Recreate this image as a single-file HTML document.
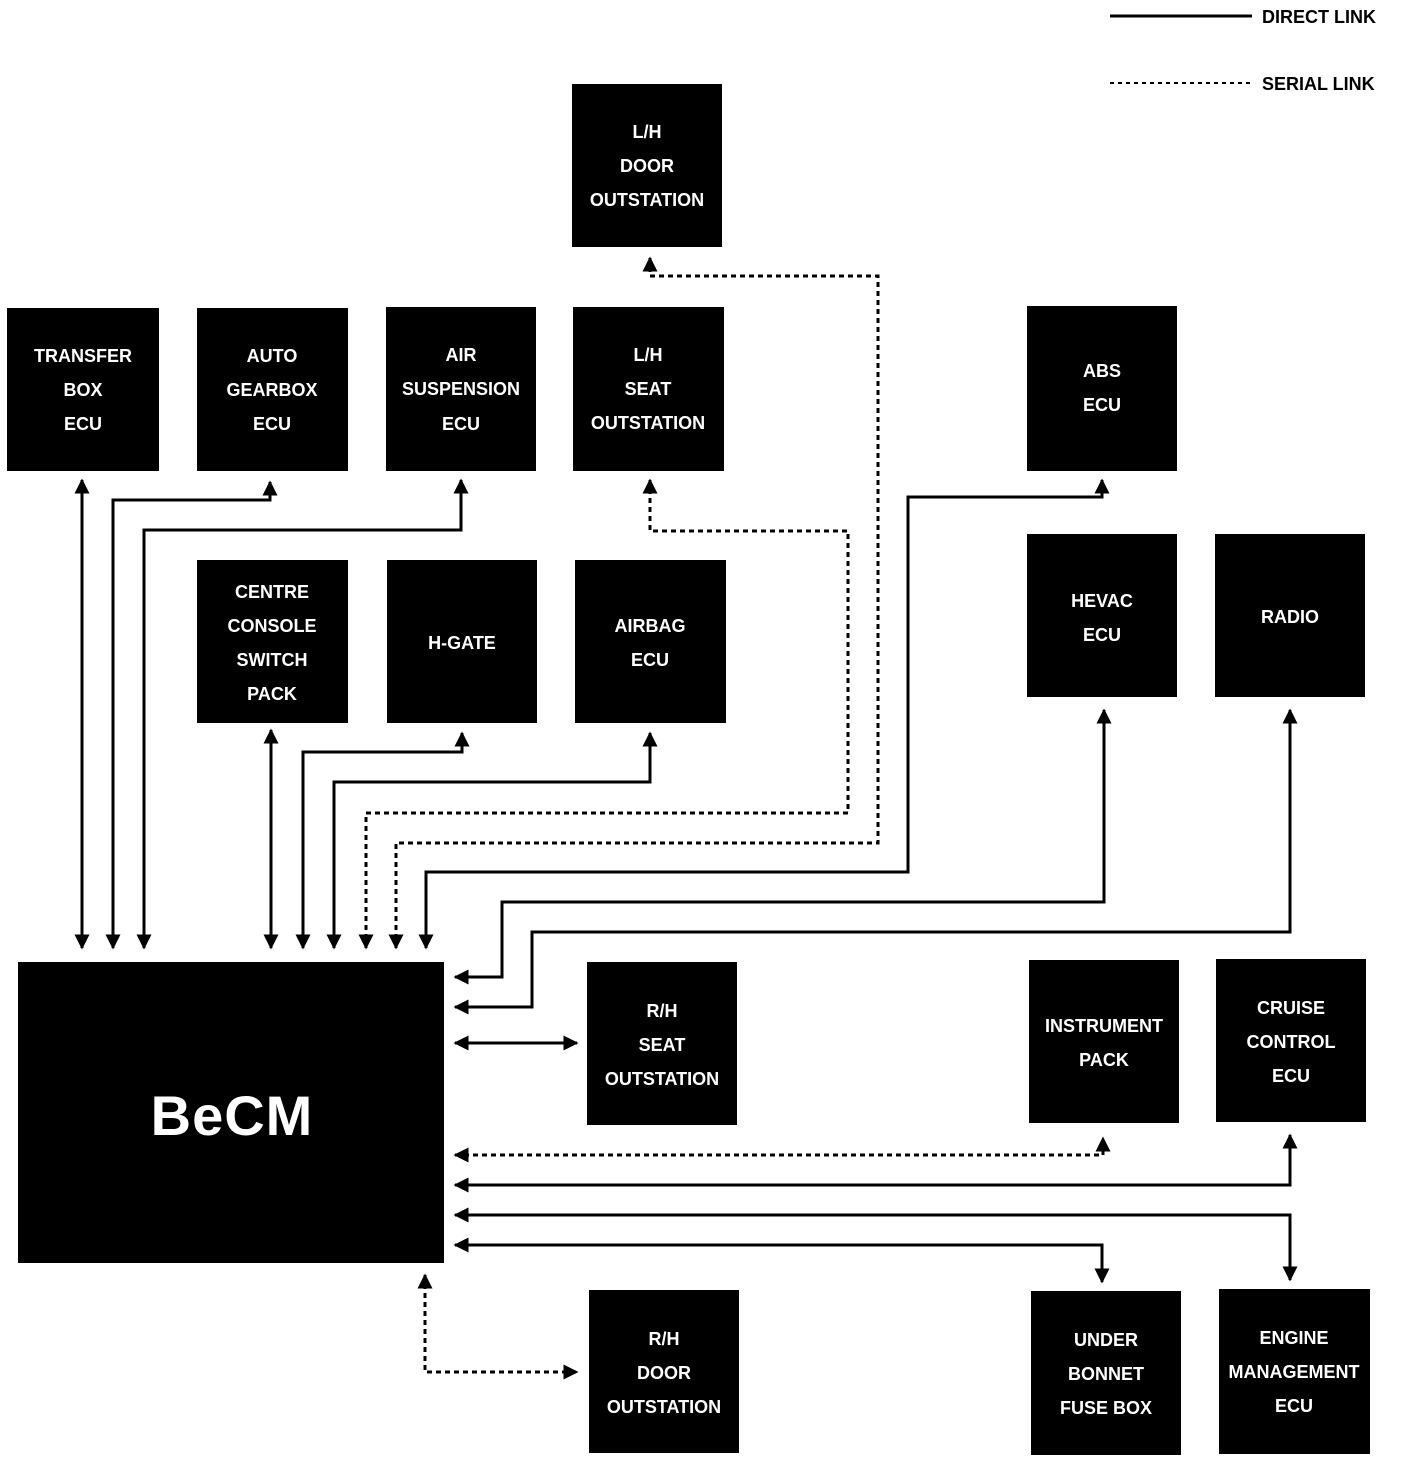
<!DOCTYPE html>
<html><head><meta charset="utf-8"><style>
html,body{margin:0;padding:0;background:#fff}
svg{display:block}
text{font-family:"Liberation Sans Narrow","Liberation Sans",sans-serif;font-weight:bold;fill:#fff;font-size:18px;text-anchor:middle;letter-spacing:0px}
.l{fill:#000;text-anchor:start}
</style></head><body>
<svg width="1408" height="1462" viewBox="0 0 1408 1462" xmlns="http://www.w3.org/2000/svg">
<defs>
<marker id="a" viewBox="0 0 10 10" refX="9" refY="5" markerWidth="5" markerHeight="5" orient="auto-start-reverse"><path d="M0,0L10,5L0,10z" fill="#000"/></marker>
</defs>
<g fill="#000">
<rect x="572" y="84" width="150" height="163"/>
<rect x="7" y="308" width="152" height="163"/>
<rect x="197" y="308" width="151" height="163"/>
<rect x="386" y="307" width="150" height="164"/>
<rect x="573" y="307" width="151" height="164"/>
<rect x="1027" y="306" width="150" height="165"/>
<rect x="197" y="560" width="151" height="163"/>
<rect x="387" y="560" width="150" height="163"/>
<rect x="575" y="560" width="151" height="163"/>
<rect x="1027" y="534" width="150" height="163"/>
<rect x="1215" y="534" width="150" height="163"/>
<rect x="18" y="962" width="426" height="301"/>
<rect x="587" y="962" width="150" height="163"/>
<rect x="1029" y="960" width="150" height="163"/>
<rect x="1216" y="959" width="150" height="163"/>
<rect x="589" y="1290" width="150" height="163"/>
<rect x="1031" y="1291" width="150" height="164"/>
<rect x="1219" y="1289" width="151" height="165"/>
</g>
<g>
<text x="647" y="138">L/H</text><text x="647" y="172">DOOR</text><text x="647" y="206">OUTSTATION</text>
<text x="83" y="362">TRANSFER</text><text x="83" y="396">BOX</text><text x="83" y="430">ECU</text>
<text x="272" y="362">AUTO</text><text x="272" y="396">GEARBOX</text><text x="272" y="430">ECU</text>
<text x="461" y="361">AIR</text><text x="461" y="395">SUSPENSION</text><text x="461" y="430">ECU</text>
<text x="648" y="361">L/H</text><text x="648" y="395">SEAT</text><text x="648" y="429">OUTSTATION</text>
<text x="1102" y="377">ABS</text><text x="1102" y="411">ECU</text>
<text x="272" y="598">CENTRE</text><text x="272" y="632">CONSOLE</text><text x="272" y="666">SWITCH</text><text x="272" y="700">PACK</text>
<text x="462" y="649">H-GATE</text>
<text x="650" y="632">AIRBAG</text><text x="650" y="666">ECU</text>
<text x="1102" y="607">HEVAC</text><text x="1102" y="641">ECU</text>
<text x="1290" y="623">RADIO</text>
<text x="232" y="1135" style="font-size:56px;letter-spacing:1px">BeCM</text>
<text x="662" y="1017">R/H</text><text x="662" y="1051">SEAT</text><text x="662" y="1085">OUTSTATION</text>
<text x="1104" y="1032">INSTRUMENT</text><text x="1104" y="1066">PACK</text>
<text x="1291" y="1014">CRUISE</text><text x="1291" y="1048">CONTROL</text><text x="1291" y="1082">ECU</text>
<text x="664" y="1345">R/H</text><text x="664" y="1379">DOOR</text><text x="664" y="1413">OUTSTATION</text>
<text x="1106" y="1346">UNDER</text><text x="1106" y="1380">BONNET</text><text x="1106" y="1414">FUSE BOX</text>
<text x="1294" y="1344">ENGINE</text><text x="1294" y="1378">MANAGEMENT</text><text x="1294" y="1412">ECU</text>
<text class="l" x="1262" y="23">DIRECT LINK</text>
<text class="l" x="1262" y="90">SERIAL LINK</text>
</g>
<g stroke="#000" stroke-width="3" fill="none">
<line x1="1110" y1="16" x2="1252" y2="16"/>
<line x1="1110" y1="83" x2="1252" y2="83" stroke-dasharray="4,4" stroke-width="2"/>
<path d="M82,480V948" marker-start="url(#a)" marker-end="url(#a)"/>
<path d="M113,948V500H270V482" marker-start="url(#a)" marker-end="url(#a)"/>
<path d="M144,948V530H461V480" marker-start="url(#a)" marker-end="url(#a)"/>
<path d="M271,730V948" marker-start="url(#a)" marker-end="url(#a)"/>
<path d="M303,948V752H462V733" marker-start="url(#a)" marker-end="url(#a)"/>
<path d="M334,948V782H650V733" marker-start="url(#a)" marker-end="url(#a)"/>
<path d="M426,948V872H908V497H1102V480" marker-start="url(#a)" marker-end="url(#a)"/>
<g stroke-dasharray="5,4">
<path d="M366,948V813H848V531H650V480" marker-start="url(#a)" marker-end="url(#a)"/>
<path d="M396,948V843H878V276H650V258" marker-start="url(#a)" marker-end="url(#a)"/>
<path d="M455,1155H1103V1138" marker-start="url(#a)" marker-end="url(#a)"/>
<path d="M425,1275V1372H577" marker-start="url(#a)" marker-end="url(#a)"/>
</g>
<path d="M455,977H502V902H1104V710" marker-start="url(#a)" marker-end="url(#a)"/>
<path d="M455,1007H532V932H1290V710" marker-start="url(#a)" marker-end="url(#a)"/>
<path d="M455,1043H577" marker-start="url(#a)" marker-end="url(#a)"/>
<path d="M455,1185H1290V1135" marker-start="url(#a)" marker-end="url(#a)"/>
<path d="M455,1215H1290V1280" marker-start="url(#a)" marker-end="url(#a)"/>
<path d="M455,1245H1102V1282" marker-start="url(#a)" marker-end="url(#a)"/>
</g>
</svg>
</body></html>
